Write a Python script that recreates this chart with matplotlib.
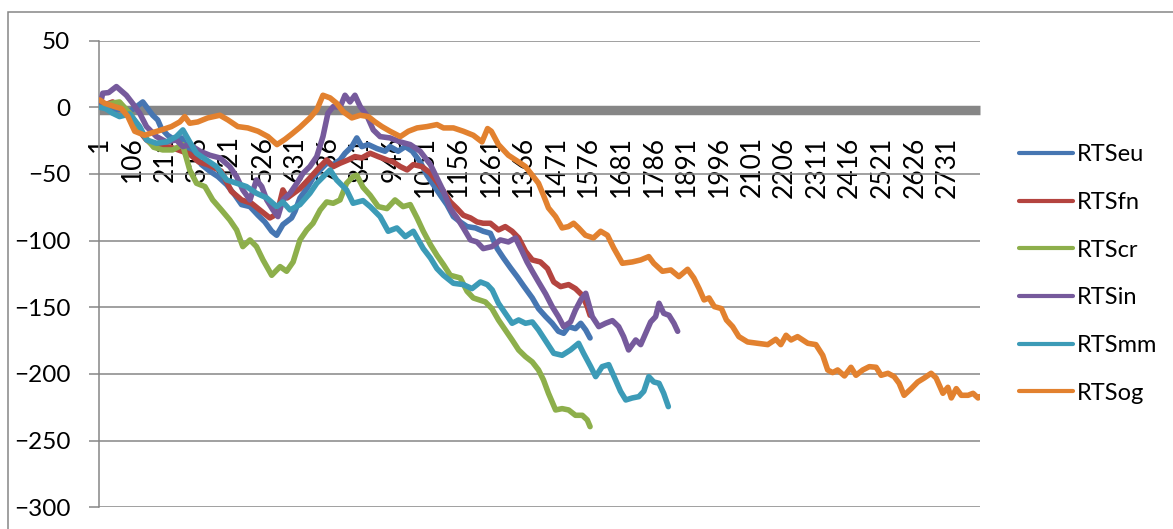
import numpy as np
import matplotlib
matplotlib.use('Agg')
import matplotlib.pyplot as plt
from matplotlib.patches import Rectangle

plt.rcParams['font.family'] = ['Lato', 'DejaVu Sans']

# number of categories on the x axis and labelled categories (every 105th)
n_cat = 2835
tick_step = 105
yticks = [50, 0, -50, -100, -150, -200, -250, -300]

# (category, value) pairs
rts_eu = np.array([[1, 0], [20, 1], [49, -2], [80, -1], [98, -3], [123, 1], [140, 4], [172, -6],
    [188, -9.5], [200, -16], [220, -21], [243, -24.5], [265, -23], [285, -31], [307, -36],
    [329, -43], [356, -48], [382, -52], [410, -58], [437, -66], [458, -73], [485, -74.5],
    [511, -81], [533, -86], [555, -93], [571, -96], [591, -88], [619, -83], [630, -78],
    [646, -68], [668, -61], [688, -53], [711, -47], [732, -42], [753, -43], [775, -39.5],
    [791, -34.5], [813, -29.5], [829, -23], [845, -29.5], [866, -28], [894, -31], [920, -33],
    [936, -29.5], [962, -33], [985, -29.5], [1008, -33], [1033, -41], [1055, -51], [1075, -58],
    [1098, -66], [1119, -73], [1140, -82], [1162, -86], [1184, -89.5], [1211, -90.5],
    [1236, -93], [1259, -94.5], [1281, -106], [1301, -113], [1324, -120.5], [1345, -127],
    [1366, -134], [1394, -143], [1414, -151], [1437, -157], [1458, -162], [1478, -168],
    [1495, -169.5], [1511, -164.5], [1533, -166], [1550, -162], [1566, -167], [1580, -173]])

rts_fn = np.array([[1, 0], [20, 2], [43, 4], [80, -2], [120, -15], [150, -24], [178, -29.5],
    [230, -30], [290, -35], [320, -41], [349, -43], [393, -48], [425, -63], [458, -69.5],
    [490, -72], [522, -78], [549, -83], [572, -80], [591, -62], [605, -68], [646, -61],
    [678, -53], [711, -44.5], [732, -39.5], [753, -44.5], [775, -42], [801, -39.5], [823, -37],
    [845, -38], [872, -34.5], [898, -37], [926, -39.5], [946, -41], [969, -44.5], [991, -47],
    [1011, -43], [1039, -44.5], [1066, -49.5], [1087, -56], [1108, -63], [1130, -71],
    [1152, -76], [1172, -81], [1195, -83], [1216, -86], [1236, -87], [1259, -87], [1285, -92],
    [1307, -89.5], [1329, -93], [1350, -98], [1372, -108], [1394, -114.5], [1420, -116],
    [1443, -121], [1463, -131], [1485, -134.5], [1511, -133], [1533, -136], [1555, -141],
    [1571, -149.5], [1580, -156]])

rts_cr = np.array([[1, 0], [40, 3], [65, 4], [100, -5], [140, -20], [175, -30], [204, -32],
    [236, -32], [268, -28], [291, -47], [313, -57], [340, -59.5], [365, -69.5], [393, -77],
    [420, -84.5], [442, -92], [462, -104.5], [485, -99.5], [506, -104.5], [527, -114.5],
    [555, -126], [582, -119.5], [603, -123], [624, -116], [646, -99.5], [668, -92], [688, -87],
    [711, -77], [732, -71], [753, -72], [775, -69.5], [796, -57], [817, -52], [829, -51],
    [849, -60], [872, -66], [898, -74.5], [926, -76], [952, -69.5], [978, -74.5], [1001, -73],
    [1023, -83], [1043, -93], [1066, -103], [1087, -111], [1108, -118], [1130, -126],
    [1162, -128], [1184, -138], [1204, -143], [1243, -146], [1264, -151], [1285, -159.5],
    [1307, -167], [1329, -174.5], [1350, -182], [1372, -187], [1394, -191], [1414, -197],
    [1430, -204.5], [1446, -214.5], [1469, -227], [1490, -226], [1511, -227], [1533, -231],
    [1555, -231], [1571, -234.5], [1580, -239.5]])

rts_in = np.array([[1, 0], [11, 10.5], [30, 11], [55, 15.5], [87, 9], [107, 3], [130, -4.5],
    [152, -14.5], [184, -22], [216, -26], [248, -24.5], [269, -29.5], [291, -28], [324, -33],
    [356, -36], [388, -38], [420, -44.5], [442, -52], [462, -62], [485, -69.5], [506, -54.5],
    [523, -59.5], [539, -69.5], [559, -77], [575, -82], [591, -69.5], [614, -64.5], [636, -57],
    [656, -49.5], [678, -44.5], [700, -37], [720, -22], [736, -4.5], [753, 0.5], [775, 0],
    [791, 9], [807, 4], [823, 9], [840, 0.5], [861, -6], [882, -17], [904, -22], [936, -23],
    [969, -26], [1001, -28], [1033, -33], [1066, -43], [1087, -53], [1108, -63], [1130, -76],
    [1152, -83], [1172, -90.5], [1195, -99.5], [1216, -101], [1236, -106], [1264, -104.5],
    [1291, -99.5], [1317, -101], [1340, -98], [1361, -108], [1377, -116], [1394, -123],
    [1414, -131], [1437, -140], [1458, -149.5], [1478, -157], [1495, -164.5], [1517, -161],
    [1533, -152], [1550, -144.5], [1566, -139.5], [1587, -157], [1608, -164.5], [1630, -162],
    [1652, -160], [1672, -164.5], [1688, -172], [1704, -182], [1727, -174.5], [1743, -178],
    [1759, -169.5], [1775, -161], [1791, -157], [1802, -147], [1817, -154.5], [1834, -156],
    [1850, -162], [1862, -168]])

rts_mm = np.array([[1, 0], [20, -1], [43, -4.5], [65, -7], [98, -5], [130, -14.5], [152, -24.5],
    [184, -27], [216, -26], [248, -22], [269, -17], [291, -26], [313, -34.5], [345, -39.5],
    [377, -44.5], [410, -54.5], [442, -57], [474, -59.5], [506, -64.5], [539, -68], [571, -74.5],
    [591, -71], [614, -77], [646, -73], [678, -64.5], [700, -57], [732, -49.5], [743, -47],
    [764, -54.5], [796, -62], [817, -72], [849, -70], [872, -74.5], [904, -82], [930, -93],
    [958, -90.5], [985, -97], [1011, -93], [1043, -106], [1066, -113], [1087, -121],
    [1108, -126], [1140, -132], [1172, -133], [1200, -136], [1227, -131], [1249, -133],
    [1265, -137], [1285, -147], [1307, -154.5], [1329, -162], [1350, -159.5], [1372, -162],
    [1394, -161], [1414, -167], [1442, -177], [1463, -184.5], [1490, -186], [1517, -182],
    [1543, -177], [1559, -184.5], [1582, -194.5], [1598, -202], [1619, -194.5], [1640, -193],
    [1662, -204.5], [1678, -213], [1695, -219.5], [1716, -218], [1737, -217], [1753, -213],
    [1769, -202], [1785, -206], [1802, -207], [1817, -214.5], [1832, -224.5]])

rts_og = np.array([[1, 5.5], [17, 3], [49, 0.5], [71, -1], [92, -7], [114, -18], [146, -21],
    [172, -19], [200, -17], [232, -14.5], [259, -11], [275, -7], [291, -12], [317, -11],
    [349, -8], [388, -6], [414, -9.5], [446, -14.5], [478, -15.5], [511, -18], [543, -22],
    [572, -28], [598, -24], [620, -20], [646, -15], [678, -8], [700, -2], [720, 9], [743, 7],
    [764, 3], [785, -3.3], [813, -8], [840, -6], [866, -7], [888, -11], [910, -14.5], [936, -18],
    [969, -22], [995, -18], [1023, -15.5], [1055, -14.5], [1087, -13], [1108, -15.5],
    [1140, -15.5], [1172, -18], [1204, -21], [1232, -26], [1250, -16], [1262, -18], [1285, -28],
    [1317, -36], [1350, -41], [1372, -44.5], [1394, -51], [1414, -57], [1430, -66], [1446, -75.5],
    [1469, -82], [1490, -90.5], [1510, -89.5], [1527, -87], [1543, -90.5], [1565, -96],
    [1591, -98], [1614, -93], [1636, -96], [1656, -105.5], [1684, -117], [1716, -116],
    [1743, -114.5], [1769, -112], [1785, -117], [1813, -123], [1840, -122], [1866, -127],
    [1894, -121.5], [1914, -128], [1931, -136], [1947, -144.5], [1963, -143], [1980, -149.5],
    [2003, -151], [2019, -159.5], [2039, -164.5], [2059, -172], [2087, -176], [2119, -177],
    [2152, -178], [2178, -174], [2194, -178], [2211, -171], [2227, -174.5], [2248, -172],
    [2281, -177], [2307, -178], [2329, -186], [2345, -197], [2361, -199], [2377, -197],
    [2399, -201.5], [2420, -195], [2436, -201], [2458, -197], [2479, -194.5], [2501, -195],
    [2517, -201], [2539, -199.5], [2559, -202], [2575, -207], [2591, -216], [2614, -211],
    [2635, -206], [2656, -203], [2678, -199.5], [2694, -203], [2716, -214.5], [2732, -210],
    [2743, -218], [2759, -211], [2775, -216], [2797, -216], [2813, -214.5], [2829, -218],
    [2835, -217]])

series = [('RTSeu', rts_eu, '#4676B2'), ('RTSfn', rts_fn, '#B4443F'),
          ('RTScr', rts_cr, '#8DAF4B'), ('RTSin', rts_in, '#765A9C'),
          ('RTSmm', rts_mm, '#3C9BB7'), ('RTSog', rts_og, '#E2812F')]

grey = '#868686'

fig = plt.figure(figsize=(11.73, 5.29), dpi=100)
ax = fig.add_axes([0.0848, 0.041, 0.7507, 0.8823])

for name, d, c in series:
    ax.plot(d[:, 0], d[:, 1], color=c, lw=4, label=name,
            solid_joinstyle='round', solid_capstyle='round', zorder=3)

ax.set_xlim(0.5, n_cat + 0.5)
ax.set_ylim(-300, 50)
ax.set_yticks(yticks)
ax.set_xticks(np.arange(1, n_cat + 1, tick_step))
ax.tick_params(axis='x', length=0, pad=19, labelsize=19, labelrotation=90)
ax.tick_params(axis='y', length=7, width=1.1, color=grey, pad=14, labelsize=17.5)
ax.set_axisbelow(True)
ax.yaxis.grid(True, color=grey, lw=1.1)

for s in ['top', 'right']:
    ax.spines[s].set_visible(False)
ax.spines['left'].set_color(grey)
ax.spines['left'].set_linewidth(1.1)
ax.spines['bottom'].set_position(('data', -2))
ax.spines['bottom'].set_color(grey)
ax.spines['bottom'].set_linewidth(6.8)
ax.spines['bottom'].set_capstyle('butt')
ax.spines['bottom'].set_zorder(1)
ax.spines['left'].set_zorder(1)

leg = ax.legend(loc='center left', bbox_to_anchor=(0.8687, 0.482),
                bbox_transform=fig.transFigure, frameon=False, fontsize=17,
                handlelength=2.3, handletextpad=0.15, labelspacing=1.13,
                borderpad=0, borderaxespad=0)
for h in leg.get_lines():
    h.set_linewidth(3)

# chart area border (cut by the image edges)
fig.patches.append(Rectangle((0.0068, -0.2), 1.2, 1.177, transform=fig.transFigure,
                             fill=False, edgecolor=grey, lw=1.1))

fig.savefig('out.png', dpi=100)
